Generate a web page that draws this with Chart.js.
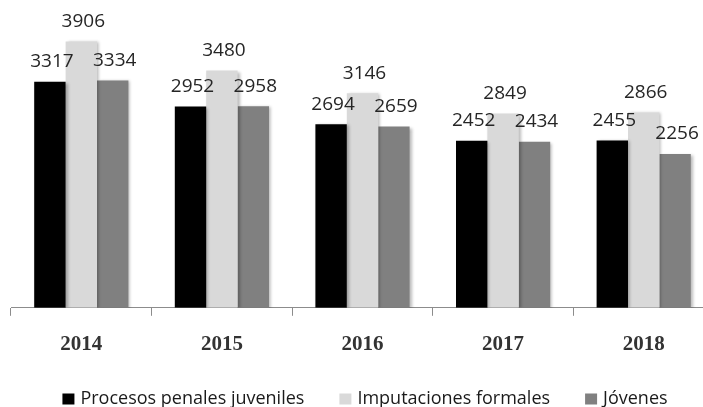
<!DOCTYPE html>
<html>
<head>
<meta charset="utf-8">
<script src="https://cdn.jsdelivr.net/npm/chart.js@4/dist/chart.umd.min.js"></script>
<style>
  html, body { margin: 0; padding: 0; background: #fff; overflow: hidden; }
  #wrap { width: 730px; height: 407px; }
</style>
</head>
<body>
<div id="wrap"><canvas id="c" width="730" height="407"></canvas></div>
<script>
// Años del periodo
const years = ['2014', '2015', '2016', '2017', '2018'];

// Series por año
const procesosPenales = [3317, 2952, 2694, 2452, 2455];
const imputaciones = [3906, 3480, 3146, 2849, 2866];
const jovenes = [3334, 2958, 2659, 2434, 2256];

const seriesNames = ['Procesos penales juveniles', 'Imputaciones formales', 'Jóvenes'];
const seriesColors = ['#000000', '#d9d9d9', '#808080'];

// Sombra suave bajo las barras
const barShadow = {
  id: 'barShadow',
  beforeDatasetsDraw(chart) {
    const ctx = chart.ctx;
    ctx.save();
    ctx.shadowColor = 'rgba(0,0,0,0.28)';
    ctx.shadowOffsetX = 2;
    ctx.shadowOffsetY = 1;
    ctx.shadowBlur = 3;
  },
  afterDatasetsDraw(chart) {
    chart.ctx.restore();
  }
};

// Valor escrito encima de cada barra
const valueLabels = {
  id: 'valueLabels',
  afterDatasetsDraw(chart) {
    const ctx = chart.ctx;
    ctx.save();
    ctx.font = '19px "Open Sans", sans-serif';
    ctx.fillStyle = '#262626';
    ctx.textAlign = 'center';
    ctx.textBaseline = 'middle';
    chart.data.datasets.forEach((ds, di) => {
      const meta = chart.getDatasetMeta(di);
      meta.data.forEach((bar, i) => {
        ctx.fillText(String(ds.data[i]), bar.x + 2, bar.y - 20);
      });
    });
    ctx.restore();
  }
};

// Leyenda horizontal centrada al pie
const bottomLegend = {
  id: 'bottomLegend',
  afterDraw(chart) {
    const ctx = chart.ctx;
    const box = 12, boxH = 11, textGap = 6, itemGap = 35, y = 399;
    ctx.save();
    ctx.font = '18px "Open Sans", sans-serif';
    ctx.textBaseline = 'middle';
    ctx.textAlign = 'left';
    const items = chart.data.datasets.map(ds => ({
      text: ds.label,
      color: ds.backgroundColor,
      w: box + textGap + ctx.measureText(ds.label).width
    }));
    const total = items.reduce((s, it) => s + it.w, 0) + itemGap * (items.length - 1);
    let x = chart.width / 2 - total / 2;
    items.forEach(it => {
      ctx.fillStyle = it.color;
      ctx.fillRect(x, y - boxH / 2, box, boxH);
      ctx.fillStyle = '#1a1a1a';
      ctx.fillText(it.text, x + box + textGap, y);
      x += it.w + itemGap;
    });
    ctx.restore();
  }
};

new Chart(document.getElementById('c'), {
  type: 'bar',
  data: {
    labels: years,
    datasets: [
      { label: seriesNames[0], data: procesosPenales, backgroundColor: seriesColors[0] },
      { label: seriesNames[1], data: imputaciones, backgroundColor: seriesColors[1] },
      { label: seriesNames[2], data: jovenes, backgroundColor: seriesColors[2] }
    ]
  },
  options: {
    responsive: false,
    animation: false,
    datasets: {
      bar: { categoryPercentage: 0.67, barPercentage: 1.0, borderWidth: 0 }
    },
    layout: { padding: { left: 11, right: 16, top: 1, bottom: 34 } },
    scales: {
      x: {
        grid: {
          display: true,
          drawOnChartArea: false,
          drawTicks: true,
          tickLength: 8,
          color: '#8c8c8c',
          offset: true
        },
        border: { display: true, color: '#8c8c8c', width: 1 },
        ticks: {
          color: '#333333',
          padding: 16,
          font: { family: '"Liberation Serif", serif', size: 21, weight: 'bold' }
        }
      },
      y: {
        display: false,
        min: 0,
        max: 4500
      }
    },
    plugins: {
      legend: { display: false },
      tooltip: { enabled: false }
    }
  },
  plugins: [barShadow, valueLabels, bottomLegend]
});
</script>
</body>
</html>
